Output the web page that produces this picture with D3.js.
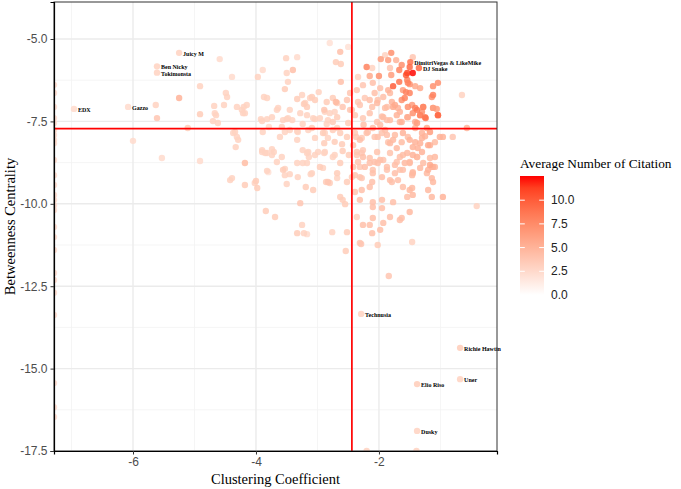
<!DOCTYPE html>
<html><head><meta charset="utf-8">
<script src="https://cdn.jsdelivr.net/npm/d3@7"></script>
<style>body{margin:0;background:#fff}svg{display:block}</style>
</head><body><svg id="c" width="681" height="489"></svg>
<script>
// ---- axis / scale values ----
const xTicks = [-6, -4, -2];
const xMinor = [-7, -5, -3, -1];
const yTicks = [-5, -7.5, -10, -12.5, -15, -17.5];
const yMinor = [-6.25, -8.75, -11.25, -13.75, -16.25];
const legendTicks = [0, 2.5, 5, 7.5, 10];
const xDomain = [-7.285, -0.08];
const yDomain = [-17.5, -3.877];
const citationRange = [0, 12.55];
const meanClustering = -2.44;
const meanBetweenness = -7.72;

// ---- labelled artists ----
const labelNames = ["Juicy M", "Ben Nicky", "Tokimonsta", "EDX", "Gazzo", "DimitriVegas & LikeMike", "DJ Snake", "Technusia", "Richie Hawtin", "Uner", "Elio Riso", "Dusky"];
const labelClustering = [-5.25, -5.61, -5.61, -6.96, -6.08, -1.49, -1.35, -2.29, -0.68, -0.68, -1.38, -1.38];
const labelBetweenness = [-5.42, -5.83, -6.02, -7.12, -7.06, -5.70, -5.88, -13.34, -14.37, -15.32, -15.47, -16.89];
const labelCitation = [3.0, 3.0, 3.0, 2.4, 2.4, 8.8, 9.4, 3.0, 3.4, 3.0, 3.4, 3.0];

// ---- other artists: [clustering, betweenness, citation] ----
const pointsA = [[-2.63,-5.39,4.2],[-2.80,-5.12,2.0],[-2.50,-5.24,2.0],[-4.59,-5.61,2.4],[-2.70,-5.70,3.4],[-2.62,-5.76,3.4],[-3.51,-5.58,3.0],[-3.40,-5.94,4.2],[-3.50,-6.03,3.0],[-3.89,-5.94,2.4],[-3.97,-6.15,3.0],[-4.39,-6.15,2.4],[-2.62,-6.30,4.2],[-3.53,-6.52,3.4],[-2.98,-6.61,3.0],[-4.91,-6.43,3.0],[-4.49,-6.64,3.0],[-4.47,-6.76,3.0],[-3.87,-6.76,3.0],[-3.82,-6.79,3.0],[-3.33,-6.82,3.4],[-3.09,-6.76,3.4],[-3.04,-6.85,3.4],[-2.47,-6.64,3.8],[-2.52,-6.85,3.8],[-5.25,-6.79,5.0],[-2.70,-6.91,4.6],[-2.59,-7.06,3.8],[-2.89,-7.15,3.8],[-2.47,-7.15,3.8],[-3.22,-6.97,3.4],[-3.17,-7.06,3.4],[-3.64,-7.09,3.0],[-4.68,-7.03,3.0],[-4.52,-7.00,3.0],[-4.31,-7.06,3.0],[-4.20,-7.06,3.0],[-4.15,-7.00,3.0],[-4.21,-7.25,3.0],[-4.91,-7.28,3.4],[-4.65,-7.31,3.0],[-4.70,-7.49,3.0],[-4.62,-7.55,3.0],[-5.63,-7.00,3.0],[-5.61,-7.40,3.8],[-5.11,-7.70,3.4],[-6.00,-8.09,2.4],[-5.53,-8.61,2.4],[-4.91,-8.70,2.4],[-4.34,-7.82,3.0],[-4.31,-7.97,3.0],[-4.33,-8.28,3.0],[-3.92,-7.43,3.0],[-3.82,-7.43,3.0],[-3.74,-7.37,3.0],[-3.66,-7.15,3.0],[-3.89,-7.82,3.0],[-3.79,-7.67,2.4],[-3.58,-7.67,3.0],[-3.53,-7.82,3.0],[-3.41,-7.46,3.0],[-3.50,-7.43,3.0],[-3.33,-7.79,3.0],[-3.28,-7.25,3.0],[-3.24,-7.58,3.0],[-3.09,-7.70,3.4],[-3.04,-7.43,3.0],[-2.96,-7.40,3.0],[-2.91,-7.85,3.4],[-2.85,-7.58,3.0],[-2.75,-7.52,3.4],[-2.68,-7.37,3.4],[-2.68,-7.70,3.0],[-2.63,-7.85,3.4],[-2.60,-8.19,3.4],[-2.50,-7.55,3.4],[-2.52,-7.97,3.4],[-2.59,-8.40,3.4],[-2.49,-8.52,3.4],[-2.37,-7.97,3.8],
[-4.18,-8.76,4.4],[-3.74,-8.34,3.0],[-3.71,-8.43,3.0],[-3.74,-8.52,3.0],[-3.66,-8.73,3.0],[-3.90,-8.43,3.0],[-3.82,-8.46,3.0],[-4.42,-9.28,3.0],[-4.39,-9.22,3.0],[-4.18,-9.43,3.4],[-4.00,-9.31,3.4],[-3.98,-9.52,3.4],[-3.82,-9.00,3.0],[-3.56,-8.97,3.4],[-3.53,-9.13,3.0],[-3.45,-9.10,3.0],[-3.33,-8.76,3.0],[-3.24,-8.76,3.0],[-3.09,-9.07,3.0],[-3.15,-8.43,3.0],[-3.14,-8.58,3.0],[-2.96,-8.88,3.4],[-2.83,-9.34,3.8],[-2.80,-9.37,3.4],[-2.88,-8.43,3.0],[-2.75,-8.58,3.0],[-2.63,-8.76,3.4],[-2.68,-9.07,3.4],[-2.52,-9.34,3.4],[-2.63,-9.79,3.4],[-2.59,-9.88,3.4],[-2.55,-10.01,3.4],[-2.44,-9.19,3.4],[-3.28,-9.98,3.8],[-3.19,-9.49,3.4],[-3.07,-9.58,3.4],[-3.84,-10.22,3.4],[-3.69,-10.40,3.4],[-3.25,-10.64,3.0],[-3.22,-10.89,3.0],[-3.33,-10.89,3.4],[-2.76,-10.86,3.0],[-2.52,-10.86,3.4],[-2.36,-10.40,3.0],[-2.54,-11.43,3.4],[-2.29,-11.22,3.8],[-2.02,-11.25,3.4],[-1.46,-11.16,3.0],[-1.84,-12.19,3.8],[-3.17,-10.92,2.4],[-3.80,-9.04,2.0],[-3.32,-9.19,3.0],[-3.11,-9.10,3.0],[-3.50,-9.40,3.0],[-2.68,-9.22,3.0],[-2.91,-8.91,3.0],[-3.17,-8.76,3.0],[-3.53,-8.94,3.0],[-4.02,-9.37,3.0],[-3.33,-5.55,2.4],[-3.48,-6.30,3.0],[-3.25,-6.70,3.0],[-3.12,-6.79,3.0],[-3.20,-6.94,3.0],[-2.75,-6.79,3.4],[-2.85,-6.91,3.4],[-2.68,-6.94,3.4],[-4.23,-7.15,3.0],[-4.18,-7.25,3.0],[-4.67,-7.25,3.0],[-3.90,-7.49,3.0],[-3.56,-7.46,3.0],[-3.48,-7.40,3.0],[-3.45,-7.15,3.0],[-3.17,-7.31,3.0],[-3.07,-7.40,3.0],[-2.88,-7.21,3.0],[-2.80,-7.25,3.0],[-2.72,-7.21,3.0],[-2.83,-7.46,3.0],[-4.37,-7.85,3.0],[-4.29,-8.06,3.0],[-3.61,-7.97,3.0],[-3.45,-7.76,3.0],[-3.32,-7.82,3.0],[-3.33,-8.06,3.0],[-3.15,-7.76,3.0],[-3.04,-8.00,3.0],[-2.88,-7.85,3.0],[-2.83,-8.00,3.0],[-3.90,-8.37,3.0],[-3.85,-8.46,3.0],[-3.58,-8.58,3.0],[-3.24,-8.37,3.0],[-3.17,-8.46,3.0],[-2.99,-8.43,3.0],[-2.72,-8.52,3.0],[-3.04,-8.52,3.0],[-2.89,-8.46,3.0],[-2.75,-7.76,3.4],[-2.89,-8.16,3.4],[-2.72,-8.12,3.4],[-2.86,-9.34,3.4]];

const pointsB = [[-1.80,-5.42,7.2],[-1.97,-5.61,6.4],[-1.85,-5.64,6.4],[-1.72,-5.64,5.0],[-1.90,-5.49,3.0],[-2.20,-5.85,8.0],[-2.00,-6.12,7.2],[-2.11,-5.88,3.0],[-2.34,-6.15,3.0],[-1.82,-5.88,3.8],[-1.67,-5.94,8.0],[-1.45,-5.55,3.8],[-1.50,-5.85,9.4],[-1.45,-6.03,12.5],[-1.56,-6.09,10],[-1.54,-6.03,11],[-1.67,-6.30,8.8],[-1.77,-6.43,10],[-1.53,-6.33,8.0],[-1.41,-6.43,5.6],[-1.56,-6.61,8.0],[-1.33,-6.49,5.6],[-1.12,-6.43,7.2],[-1.12,-6.70,8.0],[-0.65,-6.70,3.0],[-1.63,-6.85,7.2],[-2.10,-6.33,4.2],[-1.98,-6.49,4.2],[-1.85,-6.55,5.0],[-2.07,-6.64,4.2],[-1.93,-6.76,4.2],[-1.82,-6.64,4.6],[-2.26,-6.40,3.8],[-2.36,-6.55,3.8],[-2.15,-6.85,4.2],[-2.03,-6.94,4.6],[-1.87,-7.06,4.2],[-2.31,-7.00,3.8],[-2.44,-7.15,3.8],[-1.77,-7.06,5.6],[-1.66,-7.21,5.0],[-1.53,-7.06,7.2],[-1.41,-7.09,8.0],[-1.28,-7.06,8.0],[-1.33,-7.31,8.0],[-1.24,-7.40,8.8],[-1.12,-7.09,6.4],[-1.04,-7.31,9.4],[-1.45,-7.25,7.2],[-1.54,-7.37,5.0],[-1.66,-7.52,4.6],[-1.38,-7.55,6.4],[-1.22,-7.70,5.6],[-1.17,-7.82,6.4],[-1.01,-7.97,5.0],[-0.80,-7.97,3.8],[-0.57,-7.70,5.0],[-1.87,-7.46,4.2],[-1.98,-7.61,4.2],[-2.10,-7.70,4.2],[-2.20,-7.85,4.2],[-2.31,-8.06,4.2],[-2.42,-8.22,3.8],[-2.02,-7.97,4.2],[-1.87,-7.91,4.2],[-1.77,-8.06,4.6],[-1.61,-7.85,5.0],[-1.50,-8.06,5.0],[-1.45,-8.28,5.0],[-1.33,-8.16,5.0],[-1.30,-8.43,5.0],[-1.38,-8.58,4.6],[-1.54,-8.46,4.6],[-1.66,-8.58,4.2],[-1.50,-8.76,4.6],[-1.17,-8.22,5.0],[-1.09,-8.58,4.6],[-1.14,-8.88,4.6],[-1.33,-8.91,4.6],[-1.22,-9.07,4.6],[-1.45,-9.07,4.6],[-1.61,-8.97,4.2],[-1.74,-9.07,4.2],[-1.87,-8.88,4.2],[-1.98,-8.67,4.2],[-2.15,-8.76,4.2],[-2.26,-8.58,4.2],[-2.36,-8.43,3.8],[-2.10,-9.07,4.2],[-1.95,-9.19,4.2],[-1.82,-9.28,4.2],[-1.69,-9.28,4.2],[-1.61,-9.49,4.2],[-2.31,-9.19,3.8],[-2.15,-9.49,4.2],[-1.46,-9.52,4.6],[-1.45,-9.73,4.6],[-1.20,-9.58,4.6],[-1.14,-9.79,4.6],[-1.12,-9.34,4.6],[-0.96,-9.79,5.0],[-1.54,-9.79,4.2],[-1.95,-9.88,4.2],[-2.10,-9.95,4.2],[-2.31,-9.88,4.2],[-0.41,-10.07,3.0],[-1.50,-10.25,4.6],[-1.82,-10.40,4.2],[-1.66,-10.49,4.2],[-2.10,-10.43,4.2],[-2.15,-10.64,4.2],[-2.26,-10.64,4.2],[-1.98,-10.79,4.2],[-2.11,-10.89,4.2],[-2.31,-11.19,3.8],[-2.28,-8.46,3.8],[-2.07,-8.73,4.2],[-2.34,-8.73,3.8],[-2.42,-8.88,3.8],[-2.23,-8.88,4.2],[-2.02,-8.76,4.2],[-1.82,-8.16,4.6],[-1.71,-8.31,4.6],[-1.45,-8.52,5.0],[-1.37,-8.31,5.0],[-1.58,-8.76,4.6],[-1.17,-8.82,5.6],[-1.09,-8.88,4.6],[-1.74,-8.82,4.2],[-2.39,-9.13,3.8],[-2.28,-9.22,3.8],[-1.46,-9.13,4.6],[-1.14,-9.22,4.6],[-2.11,-9.34,4.2],[-1.79,-9.34,4.2],[-2.28,-9.58,4.2],[-1.50,-9.58,4.6],[-2.39,-9.64,3.8],[-1.77,-9.95,4.2],[-2.10,-10.10,4.2],[-1.95,-10.13,4.2],[-1.63,-10.43,4.2],[-1.93,-10.58,4.2],[-1.63,-5.79,7.2],[-2.15,-6.12,5.6],[-1.80,-6.09,6.4],[-1.54,-6.24,8.0],[-1.50,-6.37,7.2],[-1.04,-6.33,7.2],[-1.50,-6.64,8.0],[-1.61,-6.55,6.4],[-1.30,-7.21,7.2],[-1.06,-7.12,6.4],[-1.74,-7.00,5.6],[-1.41,-7.70,5.0],[-1.30,-7.85,5.0],[-1.90,-7.76,4.2],[-2.25,-7.60,4.2],[-1.95,-7.35,4.2],[-1.25,-7.95,5.0]];

const pointsC = [[-2.34,-6.91,3.6],[-2.23,-6.79,3.6],[-2.11,-7.06,4.0],[-2.02,-6.85,4.0],[-1.90,-7.09,4.4],[-1.79,-6.91,5.0],[-1.69,-7.09,5.0],[-1.58,-6.79,8.0],[-1.46,-7.00,6.5],[-1.38,-7.15,8.5],[-1.28,-7.06,6.0],[-1.25,-7.37,8.5],[-1.12,-7.09,6.0],[-1.04,-7.31,8.5],[-1.14,-6.76,7.0],[-2.39,-7.31,3.6],[-2.26,-7.40,3.6],[-2.15,-7.25,4.0],[-2.03,-7.52,4.0],[-1.93,-7.37,4.4],[-1.82,-7.46,4.4],[-1.71,-7.31,5.0],[-1.63,-7.52,5.0],[-1.53,-7.37,5.5],[-1.41,-7.52,5.5],[-1.33,-7.31,6.0],[-2.39,-7.85,3.6],[-2.28,-8.00,3.6],[-2.18,-7.82,3.6],[-2.07,-7.97,4.0],[-1.95,-7.85,4.0],[-1.85,-8.13,4.0],[-1.74,-7.91,4.4],[-1.63,-8.13,4.4],[-1.53,-7.97,4.4],[-1.41,-8.13,5.0],[-1.30,-8.00,5.0],[-1.20,-8.22,5.5],[-1.09,-8.13,4.4],[-0.96,-7.97,5.0],[-2.36,-8.52,3.6],[-2.26,-8.37,3.6],[-2.15,-8.61,4.0],[-2.03,-8.43,4.0],[-1.93,-8.67,4.0],[-1.82,-8.46,4.0],[-1.71,-8.73,4.0],[-1.61,-8.52,4.4],[-1.50,-8.73,4.4],[-1.38,-8.58,4.4],[-1.28,-8.76,4.4],[-1.17,-8.61,4.4],[-1.12,-8.88,5.0],[-2.31,-8.88,3.6],[-2.10,-8.97,4.0],[-1.87,-8.97,4.0],[-1.66,-8.97,4.0],[-1.45,-9.04,4.4],[-1.20,-8.97,5.0]];

// artists with zero clustering (log = -Inf): betweenness values and citations
const edgeBetweenness = [-6.39,-6.64,-7.06,-7.40,-7.55,-7.76,-7.91,-8.06,-8.16,-8.67,-9.13,-9.43,-9.73,-9.88,-10.04,-10.19,-10.70,-11.01,-11.40,-12.10,-12.31,-12.70,-13.37,-15.44,-16.17,-16.47];
const edgeCitation = [2.4,2.4,2.4,2.4,2.4,2.4,2.4,2.4,2.4,2.4,2.4,2.4,2.4,2.4,2.4,2.4,2.4,2.4,2.4,2.4,2.4,2.4,2.4,2.4,2.4,2.4];
// artists with zero betweenness (log = -Inf): clustering values and citations
const floorClustering = [-2.20, -1.39];
const floorCitation = [3.0, 3.0];

// ---- build ----
const svg = d3.select("#c");
const W = 681, H = 489;
const panel = {l: 54, r: 497, t: 2, b: 451};
const x = d3.scaleLinear().domain(xDomain).range([panel.l, panel.r]).clamp(true);
const y = d3.scaleLinear().domain(yDomain).range([panel.b, panel.t]).clamp(true);
const color = d3.scaleLinear().domain(citationRange).range(["#ffffff", "#ff0000"]).interpolate(d3.interpolateLab).clamp(true);
const hyphen = s => s.replace("\u2212", "-");

svg.append("rect").attr("width", W).attr("height", H).attr("fill", "#fff");

svg.append("defs").append("clipPath").attr("id", "pclip")
  .append("rect").attr("x", panel.l).attr("y", panel.t)
  .attr("width", panel.r - panel.l).attr("height", panel.b - panel.t);

const grid = svg.append("g");
grid.selectAll(".xm").data(xMinor).join("line")
  .attr("x1", d => x(d)).attr("x2", d => x(d)).attr("y1", panel.t).attr("y2", panel.b)
  .attr("stroke", "#f2f2f2").attr("stroke-width", 0.8);
grid.selectAll(".ym").data(yMinor).join("line")
  .attr("y1", d => y(d)).attr("y2", d => y(d)).attr("x1", panel.l).attr("x2", panel.r)
  .attr("stroke", "#f2f2f2").attr("stroke-width", 0.8);
grid.selectAll(".xM").data(xTicks).join("line")
  .attr("x1", d => x(d)).attr("x2", d => x(d)).attr("y1", panel.t).attr("y2", panel.b)
  .attr("stroke", "#ebebeb").attr("stroke-width", 1.4);
grid.selectAll(".yM").data(yTicks).join("line")
  .attr("y1", d => y(d)).attr("y2", d => y(d)).attr("x1", panel.l).attr("x2", panel.r)
  .attr("stroke", "#ebebeb").attr("stroke-width", 1.4);

// assemble all points
const pts = [];
[pointsA, pointsB, pointsC].forEach(arr => arr.forEach(p => pts.push({cx: p[0], by: p[1], v: p[2]})));
edgeBetweenness.forEach((b, i) => pts.push({cx: -Infinity, by: b, v: edgeCitation[i]}));
floorClustering.forEach((c, i) => pts.push({cx: c, by: -Infinity, v: floorCitation[i]}));
labelNames.forEach((n, i) => pts.push({cx: labelClustering[i], by: labelBetweenness[i], v: labelCitation[i]}));
pts.sort((a, b) => a.v - b.v);

const plot = svg.append("g").attr("clip-path", "url(#pclip)");
plot.selectAll("circle").data(pts).join("circle")
  .attr("cx", d => x(d.cx)).attr("cy", d => y(d.by)).attr("r", 3.2)
  .attr("fill", d => color(d.v)).attr("fill-opacity", 0.85);

// mean lines
plot.append("line").attr("x1", x(meanClustering)).attr("x2", x(meanClustering))
  .attr("y1", panel.t).attr("y2", panel.b).attr("stroke", "#ff0000").attr("stroke-width", 1.7);
plot.append("line").attr("y1", y(meanBetweenness)).attr("y2", y(meanBetweenness))
  .attr("x1", panel.l).attr("x2", panel.r).attr("stroke", "#ff0000").attr("stroke-width", 1.7);

// labels
svg.append("g").selectAll("text").data(labelNames).join("text")
  .attr("x", (d, i) => x(labelClustering[i]) + 4)
  .attr("y", (d, i) => y(labelBetweenness[i]) + 1)
  .attr("dy", "0.35em")
  .attr("font-family", "Liberation Serif, Times New Roman, serif")
  .attr("font-weight", "bold").attr("font-size", 6).attr("fill", "#000")
  .text(d => d);

// panel border
svg.append("rect").attr("x", panel.l).attr("y", panel.t)
  .attr("width", panel.r - panel.l).attr("height", panel.b - panel.t)
  .attr("fill", "none").attr("stroke", "#333").attr("stroke-width", 1);

// axes
const xAxis = svg.append("g").attr("transform", `translate(0,${panel.b})`)
  .call(d3.axisBottom(x).tickValues(xTicks).tickSize(3.5).tickPadding(3).tickFormat(d => hyphen(d3.format("d")(d))));
const yAxis = svg.append("g").attr("transform", `translate(${panel.l},0)`)
  .call(d3.axisLeft(y).tickValues(yTicks).tickSize(3.5).tickPadding(3).tickFormat(d => hyphen(d3.format(".1f")(d))));
[xAxis, yAxis].forEach(a => {
  a.select(".domain").attr("stroke", "#000").attr("stroke-width", 1.2);
  a.selectAll(".tick line").attr("stroke", "#333");
  a.selectAll(".tick text").attr("font-family", "Liberation Sans, Arial, sans-serif")
    .attr("font-size", 12).attr("fill", "#4d4d4d");
});

// axis titles
svg.append("text").attr("x", (panel.l + panel.r) / 2).attr("y", 484)
  .attr("text-anchor", "middle").attr("font-family", "Liberation Serif, Times New Roman, serif")
  .attr("font-size", 14.5).attr("fill", "#000").text("Clustering Coefficient");
svg.append("text").attr("transform", `translate(15,${(panel.t + panel.b) / 2}) rotate(-90)`)
  .attr("text-anchor", "middle").attr("font-family", "Liberation Serif, Times New Roman, serif")
  .attr("font-size", 14.5).attr("fill", "#000").text("Betweenness Centrality");

// legend
const lg = {x: 520, y0: 176, y1: 295, w: 24};
const ly = d3.scaleLinear().domain(citationRange).range([lg.y1, lg.y0]);
const grad = svg.select("defs").append("linearGradient").attr("id", "lgrad")
  .attr("x1", 0).attr("y1", 1).attr("x2", 0).attr("y2", 0);
d3.range(0, 1.0001, 0.1).forEach(t => {
  grad.append("stop").attr("offset", t).attr("stop-color", color(citationRange[0] + t * (citationRange[1] - citationRange[0])));
});
svg.append("text").attr("x", lg.x).attr("y", 168)
  .attr("font-family", "Liberation Serif, Times New Roman, serif").attr("font-size", 13.3)
  .attr("fill", "#000").text("Average Number of Citation");
svg.append("rect").attr("x", lg.x).attr("y", lg.y0).attr("width", lg.w).attr("height", lg.y1 - lg.y0)
  .attr("fill", "url(#lgrad)");
const lt = svg.append("g");
legendTicks.forEach(v => {
  lt.append("line").attr("x1", lg.x).attr("x2", lg.x + 4.8).attr("y1", ly(v)).attr("y2", ly(v))
    .attr("stroke", "#fff").attr("stroke-width", 1);
  lt.append("line").attr("x1", lg.x + lg.w - 4.8).attr("x2", lg.x + lg.w).attr("y1", ly(v)).attr("y2", ly(v))
    .attr("stroke", "#fff").attr("stroke-width", 1);
  lt.append("text").attr("x", lg.x + 31).attr("y", ly(v)).attr("dy", "0.35em")
    .attr("font-family", "Liberation Sans, Arial, sans-serif").attr("font-size", 12)
    .attr("fill", "#222").text(d3.format(".1f")(v));
});
</script></body></html>
